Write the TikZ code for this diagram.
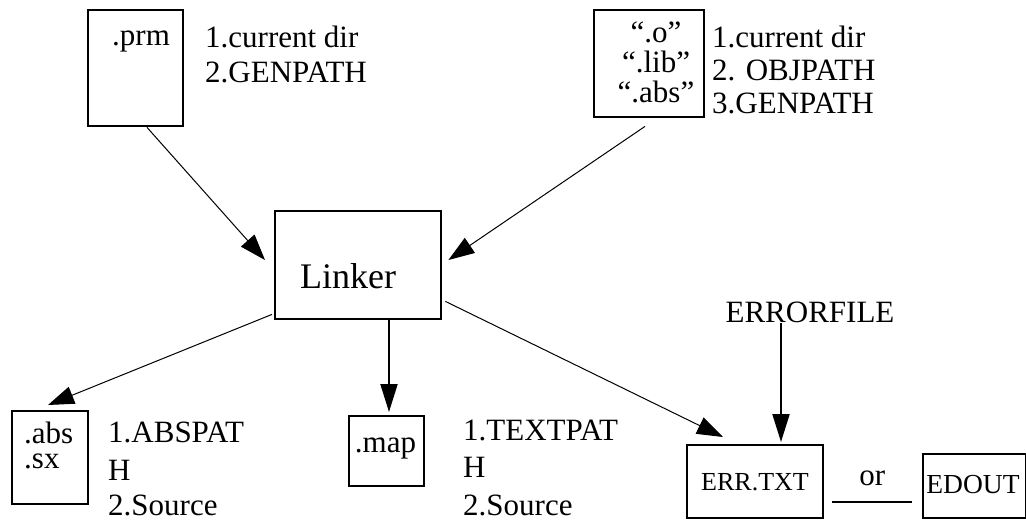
\documentclass[tikz,border=0pt]{standalone}
\usepackage{fontspec}
\setmainfont{Liberation Serif}
\usetikzlibrary{arrows.meta,calc}
\begin{document}
\begin{tikzpicture}[x=1pt,y=-1pt,
  box/.style={draw,line width=2.4pt,inner sep=0pt,anchor=north west},
  lbl/.style={inner sep=0pt,anchor=base west,font=\fontsize{31}{36}\selectfont},
  ctr/.style={inner sep=0pt,anchor=base,font=\fontsize{31}{36}\selectfont},
  thinarrow/.style={line width=1pt,-{Triangle[length=26pt,width=18pt]}},
  thickarrow/.style={line width=2pt,-{Triangle[length=28pt,width=17pt]}},
]
\useasboundingbox (0,0) rectangle (1026,520);

% input files
\node[box,minimum width=95pt,minimum height=116pt] (prm) at (87,9) {};
\node[lbl] (prmtxt) at (112,45) {.prm};
\node[lbl] (prm1) at (205,47) {1.current dir};
\node[lbl] (prm2) at (205,82) {2.GENPATH};

\node[box,minimum width=110pt,minimum height=107pt] (obj) at (593,9) {};
% multi-line node: its base anchor sits on the last line
\node[inner sep=0pt,anchor=base,align=center,
      font=\fontsize{31}{30}\selectfont] (objtxt) at (656,102)
      {``.o''\\``.lib''\\``.abs''};
\node[lbl] (obj1) at (712,47) {1.current dir};
\node[lbl] (obj2) at (712,80) {2. OBJPATH};
\node[lbl] (obj3) at (712,113) {3.GENPATH};

% the linker
\node[box,minimum width=166pt,minimum height=108pt] (lk) at (274,210) {};
\node[inner sep=0pt,anchor=base,font=\fontsize{36}{42}\selectfont] (lktxt) at (348,288) {Linker};

% output files
\node[box,minimum width=76pt,minimum height=93pt] (absb) at (11,410) {};
\node[inner sep=0pt,anchor=base west,align=left,
      font=\fontsize{31}{25}\selectfont] (abstxt) at (24,468) {.abs\\.sx};
\node[lbl] (abs1) at (108,442) {1.ABSPAT};
\node[lbl] (abs2) at (108,480) {H};
\node[lbl] (abs3) at (108,515) {2.Source};

\node[box,minimum width=75pt,minimum height=70pt] (map) at (348,415) {};
\node[ctr] (maptxt) at (385.5,452) {.map};
\node[lbl] (map1) at (463,440) {1.TEXTPAT};
\node[lbl] (map2) at (463,477) {H};
\node[lbl] (map3) at (463,515) {2.Source};

\node[box,minimum width=136pt,minimum height=73pt] (err) at (686,444) {};
\node[inner sep=0pt,anchor=base,font=\fontsize{26}{30}\selectfont] (errtxt) at (755,490) {ERR.TXT};
\node[box,minimum width=103pt,minimum height=64pt] (edout) at (922,453) {};
\node[inner sep=0pt,anchor=base,font=\fontsize{27.5}{30}\selectfont] (edtxt) at (973,493) {EDOUT};

\node[ctr] (ef) at (810,322) {ERRORFILE};

% connector end points
\coordinate (prmout) at ($(prm.south west)+(60,0)$);
\coordinate (lkinl) at ($(lk.north west)+(-9,50)$);
\coordinate (objout) at ($(obj.south west)+(52,8)$);
\coordinate (lkinr) at ($(lk.north east)+(6,50)$);
\coordinate (lkoutl) at ($(lk.south west)+(-2,-6)$);
\coordinate (absin) at ($(absb.north west)+(37,-5)$);
\coordinate (lkoutb) at ($(lk.south west)+(115,0)$);
\coordinate (mapin) at ($(map.north west)+(41,-3)$);
\coordinate (lkoutr) at ($(lk.south east)+(3,-19)$);
\coordinate (errin) at ($(err.north west)+(37,-7)$);
\coordinate (efout) at ($(ef.base)+(-29,1)$);
\coordinate (errtop) at ($(err.north west)+(95,-2)$);
\coordinate (orl) at ($(err.east)+(8,20.5)$);
\coordinate (orr) at ($(edout.west)+(-10,16)$);

\draw[thinarrow] (prmout) -- (lkinl);
\draw[thinarrow] (objout) -- (lkinr);
\draw[thinarrow] (lkoutl) -- (absin);
\draw[thickarrow] (lkoutb) -- (mapin);
\draw[thinarrow] (lkoutr) -- (errin);
\draw[thickarrow] (efout) -- (errtop);
\draw[line width=2pt] (orl) -- (orr)
  node[midway,inner sep=0pt,anchor=base,yshift=17pt,font=\fontsize{31}{36}\selectfont] (ortxt) {or};
\end{tikzpicture}
\end{document}
